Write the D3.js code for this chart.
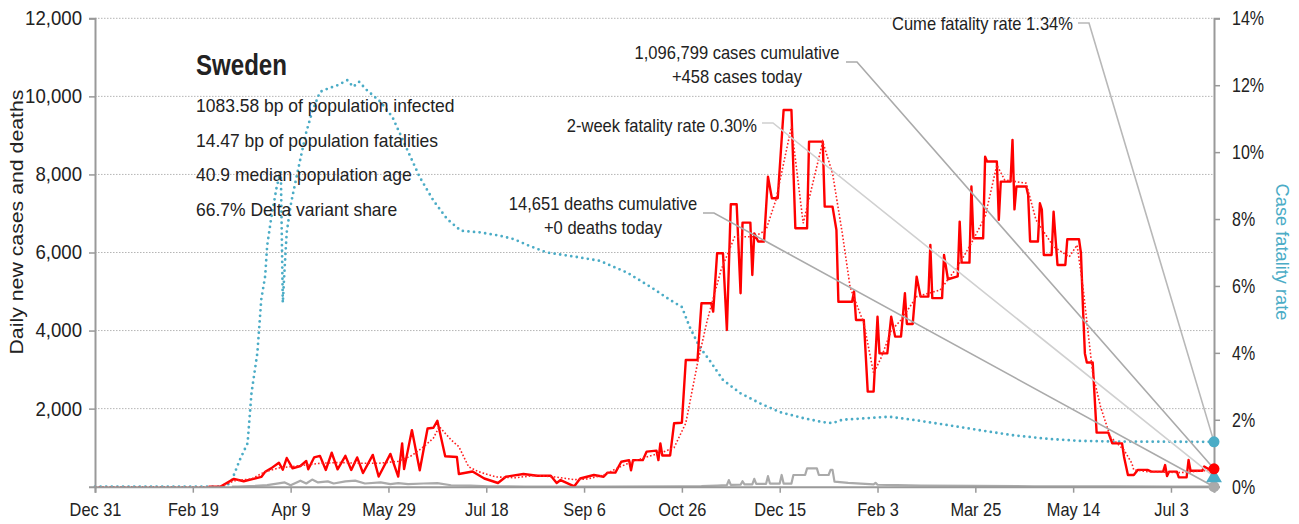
<!DOCTYPE html>
<html>
<head>
<meta charset="utf-8">
<script src="https://cdn.jsdelivr.net/npm/d3@7"></script>
<style>
  body { margin: 0; background: #fff; }
  svg text { font-family: 'Liberation Sans', Arial, sans-serif; fill: #222; }
</style>
</head>
<body>
<svg id="chart" width="1299" height="524"></svg>
<script>
// ---- data (day index counted from Dec 31, 2019) ----
const startDate = new Date(2019, 11, 31);
const lastDay = 572;
const tickDays = [0, 50, 100, 150, 200, 250, 300, 350, 400, 450, 500, 550];
const leftTicks = [2000, 4000, 6000, 8000, 10000, 12000];
const rightTicks = [0, 2, 4, 6, 8, 10, 12, 14];

// daily new cases [day, cases]
const caseSeries = [[58,0],[64,0],[71,200],[76,140],[81,200],[85,250],[87,385],[90,470],[94,615],[96,435],[98,735],[101,470],[105,530],[108,660],[109,445],[112,750],[115,790],[118,430],[121,870],[124,445],[128,790],[131,430],[134,750],[137,350],[142,815],[145,260],[151,840],[155,260],[157,1110],[158,450],[162,1450],[166,420],[170,1490],[173,1510],[175,1690],[179,780],[185,760],[186,325],[193,390],[199,210],[206,95],[210,255],[219,325],[226,280],[233,280],[236,95],[238,170],[245,10],[248,210],[255,300],[260,255],[262,360],[266,360],[269,640],[273,680],[274,420],[275,680],[280,680],[282,900],[287,925],[288,680],[289,1110],[290,800],[294,800],[296,1625],[300,1640],[302,3245],[308,3245],[310,4700],[315,4700],[316,4485],[318,5980],[321,5980],[323,4015],[325,7235],[328,7235],[330,4955],[331,6765],[335,6765],[336,5425],[337,6490],[339,6280],[342,6280],[344,7940],[346,7390],[349,7390],[352,9650],[356,9650],[358,6620],[364,6620],[365,8840],[372,8840],[373,7175],[377,7175],[379,6575],[380,4740],[387,4740],[388,5000],[389,4270],[393,4270],[395,2435],[398,2435],[400,4355],[401,3415],[405,3415],[407,4355],[409,3845],[412,3845],[414,4955],[415,4170],[418,4170],[420,5380],[422,4870],[426,4870],[427,6195],[428,4830],[433,4830],[434,5935],[436,5315],[441,5390],[442,6790],[443,5740],[447,5740],[448,7690],[449,6365],[454,6365],[455,8455],[456,8330],[461,8330],[462,6835],[463,7815],[468,7815],[469,8885],[470,7105],[471,7690],[476,7690],[477,7475],[478,6280],[482,6280],[483,7260],[484,7100],[485,5935],[489,5935],[490,7045],[492,5680],[496,5680],[497,6340],[503,6340],[504,5980],[505,4610],[506,3415],[507,3180],[510,3180],[512,1385],[518,1385],[520,1110],[525,1110],[526,770],[528,300],[531,300],[533,430],[538,430],[540,385],[546,385],[547,555],[548,275],[549,385],[553,385],[554,240],[558,240],[559,685],[560,410],[566,410],[567,515],[569,460],[571,470],[572,458]];

// 7-day average of cases [day, cases]
const caseAvgSeries = [[0,0],[64,0],[71,150],[80,200],[87,385],[94,480],[105,540],[115,600],[125,620],[135,600],[145,600],[155,650],[162,800],[168,1025],[173,1245],[176,1540],[182,1200],[186,1025],[191,510],[196,385],[205,250],[215,230],[225,290],[235,250],[245,180],[252,200],[260,300],[268,500],[275,650],[282,760],[290,880],[296,1000],[302,1630],[308,3165],[313,4270],[320,5550],[327,6405],[337,6405],[343,6575],[348,7340],[356,9225],[362,6750],[372,8840],[377,8030],[382,6490],[386,5110],[393,4185],[398,2905],[402,3320],[407,4000],[412,4270],[420,4870],[432,5040],[441,5640],[448,6240],[455,6920],[461,8240],[465,7860],[476,7775],[481,6835],[490,6150],[498,5890],[502,6190],[505,5125],[510,2905],[514,2050],[519,1280],[526,940],[530,600],[531,430],[538,385],[550,370],[555,360],[565,400],[572,430]];

// daily deaths [day, deaths]
const deathSeries = [[70,0],[73,5],[82,20],[88,40],[93,80],[97,110],[100,37],[105,155],[108,82],[111,183],[114,110],[119,137],[122,82],[128,137],[133,155],[138,82],[146,110],[151,64],[155,92],[160,64],[168,82],[175,92],[182,37],[192,27],[201,9],[220,5],[260,3],[300,8],[310,15],[318,30],[323,40],[324,170],[325,45],[330,50],[331,140],[332,60],[336,60],[337,200],[338,70],[343,70],[344,270],[345,80],[350,80],[351,300],[352,80],[356,80],[357,300],[363,300],[364,470],[369,470],[370,300],[375,300],[376,430],[377,430],[378,130],[385,100],[398,60],[399,100],[400,50],[410,40],[422,25],[450,20],[480,12],[520,6],[550,3],[572,0]];

// cumulative case fatality rate [day, percent]
const cfrSeries = [[0,0],[67,0],[70,0.2],[74,0.8],[78,1.3],[80,2.8],[83,4.0],[85,5.6],[87,6.3],[88,7.2],[90,8.0],[93,9.0],[95,9.4],[96,5.5],[97,6.6],[98,7.6],[100,8.4],[101,8.7],[105,9.8],[108,10.6],[111,11.2],[115,11.8],[119,11.9],[124,12.0],[129,12.15],[132,11.95],[135,12.1],[139,11.85],[146,11.5],[152,11.05],[159,10.15],[166,9.25],[173,8.55],[180,8.0],[187,7.65],[197,7.6],[207,7.5],[214,7.4],[222,7.2],[231,7.0],[248,6.85],[258,6.75],[272,6.4],[284,5.97],[294,5.58],[300,5.37],[304,4.77],[309,4.18],[314,3.79],[321,3.19],[330,2.79],[340,2.49],[350,2.23],[362,2.05],[372,1.93],[377,1.9],[382,2.0],[395,2.05],[406,2.09],[418,2.0],[436,1.84],[452,1.69],[469,1.54],[487,1.43],[503,1.37],[520,1.35],[572,1.34]];

// latest figures
const casesToday = 458;
const deathsToday = 0;
const cumeFatality = 1.34;
const twoWeekFatality = 0.30;

const infoLines = [
  "1083.58 bp of population infected",
  "14.47 bp of population fatalities",
  "40.9 median population age",
  "66.7% Delta variant share"
];

// ---- scales ----
const svg = d3.select("#chart");
const dayDate = d => d3.timeDay.offset(startDate, d);
const x = d3.scaleTime().domain([startDate, dayDate(lastDay)]).range([95, 1214]);
const y = d3.scaleLinear().domain([0, 12000]).range([486.7, 18.3]);
const y2 = d3.scaleLinear().domain([0, 14]).range([486.7, 18.3]);

const blue = "#4bacc6";
const axisGrey = "#999";

// squeeze a text run horizontally to give a narrow typeface look
function narrow(sel, k) {
  sel.each(function () {
    const len = this.getComputedTextLength();
    d3.select(this).attr("textLength", len * k).attr("lengthAdjust", "spacingAndGlyphs");
  });
}

// gridlines
svg.append("g").selectAll("line").data(leftTicks).join("line")
  .attr("x1", 95).attr("x2", 1214)
  .attr("y1", d => y(d)).attr("y2", d => y(d))
  .attr("stroke", "#b5b5b5").attr("stroke-width", 1).attr("stroke-dasharray", "1.5 1.5");

const lineL = d3.line().x(d => x(dayDate(d[0]))).y(d => y(d[1]));
const lineR = d3.line().x(d => x(dayDate(d[0]))).y(d => y2(d[1]));

// case fatality rate (dotted blue)
svg.append("path").datum(cfrSeries).attr("d", lineR)
  .attr("fill", "none").attr("stroke", blue).attr("stroke-width", 2.8)
  .attr("stroke-linecap", "round").attr("stroke-dasharray", "0 5.6");

// deaths (grey)
svg.append("path").datum(deathSeries).attr("d", lineL)
  .attr("fill", "none").attr("stroke", "#aaa").attr("stroke-width", 2.2)
  .attr("stroke-linejoin", "round");

// cases (red)
svg.append("path").datum(caseSeries).attr("d", lineL)
  .attr("fill", "none").attr("stroke", "#ff0000").attr("stroke-width", 2.4)
  .attr("stroke-linejoin", "round");

// 7-day average (dotted red)
svg.append("path").datum(caseAvgSeries).attr("d", lineL)
  .attr("fill", "none").attr("stroke", "#ff2020").attr("stroke-width", 1.6)
  .attr("stroke-dasharray", "1.6 2");

// ---- axes ----
const gx = svg.append("g").attr("transform", "translate(0,486.7)")
  .call(d3.axisBottom(x).tickValues(tickDays.map(dayDate))
    .tickFormat(d3.timeFormat("%b %-d")).tickSize(6).tickPadding(10));
gx.select(".domain").attr("stroke", axisGrey).attr("stroke-width", 2);
gx.selectAll(".tick line").attr("stroke", axisGrey).attr("stroke-width", 1.5);
gx.selectAll(".tick text").attr("font-size", 19).attr("fill", "#222")
  .attr("font-family", "'Liberation Sans', Arial, sans-serif").call(narrow, 0.86);

const gy = svg.append("g").attr("transform", "translate(95,0)")
  .call(d3.axisLeft(y).tickValues(leftTicks).tickFormat(d3.format(",")).tickSize(6).tickPadding(7));
gy.select(".domain").attr("stroke", axisGrey).attr("stroke-width", 2);
gy.selectAll(".tick line").attr("stroke", axisGrey).attr("stroke-width", 1.5);
gy.selectAll(".tick text").attr("font-size", 20).attr("fill", "#222")
  .attr("font-family", "'Liberation Sans', Arial, sans-serif").call(narrow, 0.93);

const gy2 = svg.append("g").attr("transform", "translate(1214,0)")
  .call(d3.axisRight(y2).tickValues(rightTicks).tickFormat(d => d + "%").tickSize(6).tickPadding(12));
gy2.select(".domain").attr("stroke", axisGrey).attr("stroke-width", 2);
gy2.selectAll(".tick line").attr("stroke", axisGrey).attr("stroke-width", 1.5);
gy2.selectAll(".tick text").attr("font-size", 20).attr("fill", blue)
  .attr("font-family", "'Liberation Sans', Arial, sans-serif").call(narrow, 0.8);

// axis titles
svg.append("text").attr("transform", "translate(23,222) rotate(-90)")
  .attr("text-anchor", "middle").attr("font-size", 18)
  .attr("textLength", 265).attr("lengthAdjust", "spacingAndGlyphs")
  .text("Daily new cases and deaths");
svg.append("text").attr("transform", "translate(1276,252) rotate(90)")
  .attr("text-anchor", "middle").attr("font-size", 19).style("fill", blue)
  .text("Case fatality rate").call(narrow, 0.96);

// ---- title block ----
svg.append("text").attr("x", 196).attr("y", 75).attr("font-size", 29)
  .attr("font-weight", "bold").text("Sweden").call(narrow, 0.83);
svg.append("g").selectAll("text").data(infoLines).join("text")
  .attr("x", 196).attr("y", (d, i) => 112 + i * 34.7)
  .attr("font-size", 19).text(d => d).call(narrow, 0.92);

// ---- annotations with leader lines ----
const endX = x(dayDate(lastDay));
const notes = [
  { lines: ["Cume fatality rate 1.34%"], anchor: "end", tx: 1073, ty: 30, lx: 1078, ly: 23, ex: endX, ey: y2(cumeFatality), color: "#b8b8b8" },
  { lines: ["1,096,799 cases cumulative", "+458 cases today"], anchor: "middle", tx: 737, ty: 59, lx: 846, ly: 62, ex: endX, ey: y(casesToday), color: "#aaa" },
  { lines: ["2-week fatality rate 0.30%"], anchor: "end", tx: 757, ty: 132, lx: 762, ly: 123, ex: endX, ey: y2(twoWeekFatality), color: "#d0d0d0" },
  { lines: ["14,651 deaths cumulative", "+0 deaths today"], anchor: "middle", tx: 603, ty: 210, lx: 703, ly: 213, ex: endX, ey: y(deathsToday), color: "#aaa" }
];
notes.forEach(n => {
  svg.append("polyline")
    .attr("points", `${n.lx},${n.ly} ${n.lx + 11},${n.ly} ${n.ex},${n.ey}`)
    .attr("fill", "none").attr("stroke", n.color).attr("stroke-width", 1.6);
  n.lines.forEach((t, i) => {
    svg.append("text").attr("x", n.tx).attr("y", n.ty + i * 24)
      .attr("text-anchor", n.anchor).attr("font-size", 19).text(t).call(narrow, 0.87);
  });
});

// ---- end markers ----
svg.append("circle").attr("cx", endX).attr("cy", y(deathsToday)).attr("r", 5.5).attr("fill", "#aaa");
svg.append("path").attr("d", d3.symbol(d3.symbolTriangle, 110)())
  .attr("transform", `translate(${endX},${y2(twoWeekFatality) + 1})`).attr("fill", blue);
svg.append("circle").attr("cx", endX).attr("cy", y(casesToday)).attr("r", 5.5).attr("fill", "#ff0000");
svg.append("circle").attr("cx", endX).attr("cy", y2(cumeFatality)).attr("r", 5.5).attr("fill", blue);
</script>
</body>
</html>
